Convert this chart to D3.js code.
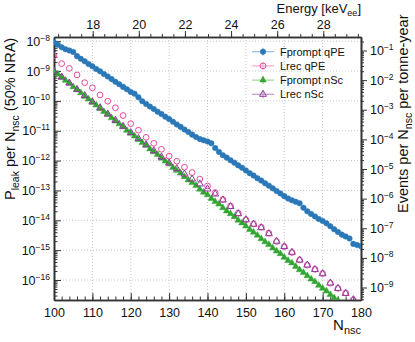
<!DOCTYPE html>
<html>
<head>
<meta charset="utf-8">
<script src="https://cdn.jsdelivr.net/npm/d3@7"></script>
<style>
body { margin: 0; background: #fff; }
svg { display: block; font-family: "Liberation Sans", Arial, sans-serif; }
</style>
</head>
<body>
<svg id="chart" width="415" height="342"></svg>
<script>
// N_nsc bins (step 1 and step 2)
const nscFine = [100,101,102,103,104,105,106,107,108,109,110,111,112,113,114,115,116,117,118,119,
  120,121,122,123,124,125,126,127,128,129,130,131,132,133,134,135,136,137,138,139,
  140,141,142,143,144,145,146,147,148,149,150,151,152,153,154,155,156,157,158,159,
  160,161,162,163,164,165,166,167,168,169,170,171,172,173,174,175,176,177,178,179,180];
const nscCoarse = [100,102,104,106,108,110,112,114,116,118,120,122,124,126,128,130,132,134,136,138,
  140,142,144,146,148,150,152,154,156,158,160,162,164,166,168,170,172,174,176,178];

// log10(P_leak)
const fpromptQpe = [-8.04,-8.12,-8.20,-8.27,-8.31,-8.36,-8.50,-8.59,-8.67,-8.76,
  -8.84,-8.93,-9.01,-9.10,-9.18,-9.27,-9.36,-9.44,-9.53,-9.61,
  -9.70,-9.76,-9.88,-10.01,-10.10,-10.19,-10.27,-10.36,-10.44,-10.53,
  -10.61,-10.70,-10.79,-10.87,-10.96,-11.04,-11.13,-11.21,-11.28,-11.32,
  -11.36,-11.42,-11.58,-11.71,-11.82,-11.90,-11.99,-12.07,-12.16,-12.24,
  -12.33,-12.42,-12.50,-12.59,-12.67,-12.76,-12.84,-12.93,-13.02,-13.10,
  -13.19,-13.27,-13.33,-13.38,-13.43,-13.58,-13.70,-13.79,-13.87,-13.96,
  -14.02,-14.10,-14.20,-14.30,-14.39,-14.48,-14.54,-14.61,-14.79,-14.83,-14.87];
const lrecQpe = [-8.49,-8.75,-8.91,-9.13,-9.39,-9.56,-9.80,-10.01,-10.23,-10.49,
  -10.76,-10.98,-11.22,-11.42,-11.62,-11.85,-12.02,-12.22,-12.40,-12.62,
  -12.85,-13.07,-13.30,-13.52,-13.76,-13.98,-14.12,-14.23,-14.43,-14.71,
  -14.88,-15.08,-15.33,-15.50,-15.64,-15.78,-16.11,-16.28,-16.43,-16.67];
const fpromptNsc = [-9.00,-9.10,-9.21,-9.31,-9.41,-9.53,-9.62,-9.73,-9.85,-9.94,
  -10.05,-10.14,-10.26,-10.36,-10.45,-10.57,-10.68,-10.77,-10.87,-10.99,
  -11.09,-11.18,-11.30,-11.40,-11.49,-11.61,-11.71,-11.80,-11.92,-12.02,
  -12.11,-12.23,-12.33,-12.42,-12.54,-12.65,-12.74,-12.84,-12.96,-13.06,
  -13.15,-13.27,-13.37,-13.46,-13.58,-13.69,-13.78,-13.88,-14.00,-14.09,
  -14.19,-14.31,-14.40,-14.50,-14.62,-14.72,-14.81,-14.93,-15.03,-15.12,
  -15.24,-15.35,-15.43,-15.55,-15.66,-15.75,-15.86,-15.97,-16.06,-16.18,
  -16.28,-16.37,-16.49,-16.60,-16.68,-16.80];
const lrecNsc = [-9.00,-9.20,-9.40,-9.62,-9.82,-10.03,-10.23,-10.44,-10.65,-10.85,
  -11.06,-11.26,-11.47,-11.67,-11.88,-12.08,-12.27,-12.45,-12.62,-12.78,
  -12.95,-13.12,-13.32,-13.54,-13.78,-13.98,-14.13,-14.25,-14.45,-14.70,
  -14.88,-15.07,-15.33,-15.50,-15.65,-15.79,-16.10,-16.28,-16.45,-16.66];

const xTicks = [100,110,120,130,140,150,160,170,180];
const energyTicks = [18,20,22,24,26,28];
const leftDecades = [-16,-15,-14,-13,-12,-11,-10,-9,-8];
const rightDecades = [-9,-8,-7,-6,-5,-4,-3,-2,-1];
const legendLabels = ["Fprompt qPE", "Lrec qPE", "Fprompt nSc", "Lrec nSc"];

const svg = d3.select("#chart");
const L = 54, R = 361, T = 37, B = 300;
const axisCol = "#333";

const x = d3.scaleLinear().domain([100, 180]).range([L, R]);
const y = d3.scaleLog().domain([Math.pow(10, -16.67), Math.pow(10, -7.859)]).range([B, T]);
const yR = d3.scaleLog().domain([Math.pow(10, -9.422), Math.pow(10, -0.544)]).range([B, T]);
const xE = d3.scaleLinear().domain([16.322, 29.635]).range([L, R]);

// grid
const grid = svg.append("g").attr("stroke", "#c8c8c8").attr("stroke-dasharray", "1,2");
grid.selectAll(".gx").data(xTicks.slice(1, -1)).enter().append("line")
    .attr("x1", d => x(d)).attr("x2", d => x(d)).attr("y1", T).attr("y2", B);
grid.selectAll(".gy").data(leftDecades).enter().append("line")
    .attr("x1", L).attr("x2", R)
    .attr("y1", d => y(Math.pow(10, d))).attr("y2", d => y(Math.pow(10, d)));

// minor values for log axes
function logMinors(scale) {
    const out = [];
    const dom = scale.domain();
    const lo = Math.floor(Math.log10(dom[0])), hi = Math.ceil(Math.log10(dom[1]));
    for (let e = lo; e <= hi; e++) {
        for (let m = 2; m <= 9; m++) {
            const v = m * Math.pow(10, e);
            if (v >= dom[0] && v <= dom[1]) out.push(v);
        }
    }
    return out;
}

function styleAxis(g) {
    g.select(".domain").attr("stroke", axisCol).attr("stroke-width", 1.6);
    g.selectAll(".tick line").attr("stroke", axisCol).attr("stroke-width", 1);
    g.selectAll(".tick text").attr("fill", "#111").attr("font-size", 12.5);
}

function powLabels(g, decades) {
    g.selectAll(".tick text").each(function(d, i) {
        const t = d3.select(this);
        t.text(null);
        t.append("tspan").text("10");
        t.append("tspan").attr("dy", -5).attr("font-size", 8.5).text("\u2212" + Math.abs(decades[i]));
    });
}

// bottom axis
const gB = svg.append("g").attr("transform", `translate(0,${B})`);
gB.append("g").call(d3.axisBottom(x).tickValues(d3.range(100, 181, 2)).tickFormat("").tickSize(-3.5).tickSizeOuter(0)).call(styleAxis);
gB.append("g").call(d3.axisBottom(x).tickValues(xTicks).tickSize(-7).tickPadding(8).tickSizeOuter(0)).call(styleAxis);

// top (energy) axis
const gT = svg.append("g").attr("transform", `translate(0,${T})`);
gT.append("g").call(d3.axisTop(xE).tickValues(d3.range(16.5, 29.6, 0.5)).tickFormat("").tickSize(3).tickSizeOuter(0)).call(styleAxis);
gT.append("g").call(d3.axisTop(xE).tickValues(energyTicks).tickSize(6).tickPadding(2.5).tickSizeOuter(0)).call(styleAxis);

// left axis
const gL = svg.append("g").attr("transform", `translate(${L},0)`);
gL.append("g").call(d3.axisLeft(y).tickValues(logMinors(y)).tickFormat("").tickSize(-3.5).tickSizeOuter(0)).call(styleAxis);
const gLm = gL.append("g").call(d3.axisLeft(y).tickValues(leftDecades.map(d => Math.pow(10, d))).tickSize(-7).tickPadding(4).tickSizeOuter(0)).call(styleAxis);
powLabels(gLm, leftDecades);

// right axis
const gR = svg.append("g").attr("transform", `translate(${R},0)`);
gR.append("g").call(d3.axisRight(yR).tickValues(logMinors(yR)).tickFormat("").tickSize(3).tickSizeOuter(0)).call(styleAxis);
const gRm = gR.append("g").call(d3.axisRight(yR).tickValues(rightDecades.map(d => Math.pow(10, d))).tickSize(6).tickPadding(3).tickSizeOuter(0)).call(styleAxis);
powLabels(gRm, rightDecades);

// data
const series = [
    { name: legendLabels[0], nsc: nscFine, val: fpromptQpe, col: "#2a78b8", light: "#8fbfe6", shape: "circle", fill: true, xbar: true },
    { name: legendLabels[1], nsc: nscCoarse, val: lrecQpe, col: "#e6489c", light: "#f5a9d0", shape: "circle", fill: false, xbar: false },
    { name: legendLabels[2], nsc: nscFine.slice(0, fpromptNsc.length), val: fpromptNsc, col: "#33a532", light: "#95dc8f", shape: "triangle", fill: true, xbar: true },
    { name: legendLabels[3], nsc: nscCoarse, val: lrecNsc, col: "#8e3a98", light: "#c493cc", shape: "triangle", fill: false, xbar: false }
];

function symPath(s) {
    if (s.shape === "circle") return d3.symbol().type(d3.symbolCircle).size(s.fill ? 24 : 26)();
    return d3.symbol().type(d3.symbolTriangle).size(s.fill ? 19 : 21)();
}

svg.append("clipPath").attr("id", "clip").append("rect")
    .attr("x", L).attr("y", T).attr("width", R - L).attr("height", B - T);
const plot = svg.append("g").attr("clip-path", "url(#clip)");

series.forEach(s => {
    const pts = s.nsc.map((n, i) => ({ n: n, v: Math.pow(10, s.val[i]) }));
    const g = plot.append("g");
    if (s.xbar) {
        g.selectAll("line").data(pts).enter().append("line")
            .attr("x1", d => x(d.n - 0.5)).attr("x2", d => x(d.n + 0.5))
            .attr("y1", d => y(d.v)).attr("y2", d => y(d.v))
            .attr("stroke", s.light).attr("stroke-width", 1.2);
    }
    g.selectAll("path").data(pts).enter().append("path")
        .attr("d", symPath(s))
        .attr("transform", d => `translate(${x(d.n)},${y(d.v)})`)
        .attr("fill", s.fill ? s.col : "none")
        .attr("stroke", s.col)
        .attr("stroke-width", s.fill ? 0.5 : 1);
});

// legend
const leg = svg.append("g");
series.forEach((s, i) => {
    const ly = 51.7 + i * 14.2;
    leg.append("line").attr("x1", 252).attr("x2", 274).attr("y1", ly).attr("y2", ly)
        .attr("stroke", s.light).attr("stroke-width", 1.2);
    leg.append("line").attr("x1", 263).attr("x2", 263).attr("y1", ly - 4).attr("y2", ly + 4)
        .attr("stroke", s.light).attr("stroke-width", 1.2);
    leg.append("path").attr("d", symPath(s)).attr("transform", `translate(263,${ly})`)
        .attr("fill", s.fill ? s.col : "none").attr("stroke", s.col).attr("stroke-width", s.fill ? 0.5 : 1);
    leg.append("text").attr("x", 280).attr("y", ly + 4).attr("font-size", 11).attr("fill", "#111").text(s.name);
});

// axis titles
const tb = svg.append("text").attr("x", R).attr("y", 330).attr("text-anchor", "end").attr("font-size", 15).attr("fill", "#111");
tb.append("tspan").text("N");
tb.append("tspan").attr("font-size", 11).attr("dy", 4).text("nsc");

const tt = svg.append("text").attr("x", R).attr("y", 13).attr("text-anchor", "end").attr("font-size", 13).attr("fill", "#111");
tt.append("tspan").text("Energy [keV");
tt.append("tspan").attr("font-size", 9).attr("dy", 3).text("ee");
tt.append("tspan").attr("dy", -3).text("]");

const tl = svg.append("text").attr("transform", "translate(15,200) rotate(-90)").attr("font-size", 14.5).attr("fill", "#111");
tl.append("tspan").text("P");
tl.append("tspan").attr("font-size", 10.5).attr("dy", 4).text("leak");
tl.append("tspan").attr("dy", -4).text(" per N");
tl.append("tspan").attr("font-size", 10.5).attr("dy", 4).text("nsc");
tl.append("tspan").attr("dy", -4).text(" (50% NRA)");

const tr = svg.append("text").attr("transform", "translate(408,213) rotate(-90)").attr("font-size", 14.5).attr("fill", "#111");
tr.append("tspan").text("Events per N");
tr.append("tspan").attr("font-size", 10.5).attr("dy", 4).text("nsc");
tr.append("tspan").attr("dy", -4).text(" per tonne-year");
</script>
</body>
</html>
